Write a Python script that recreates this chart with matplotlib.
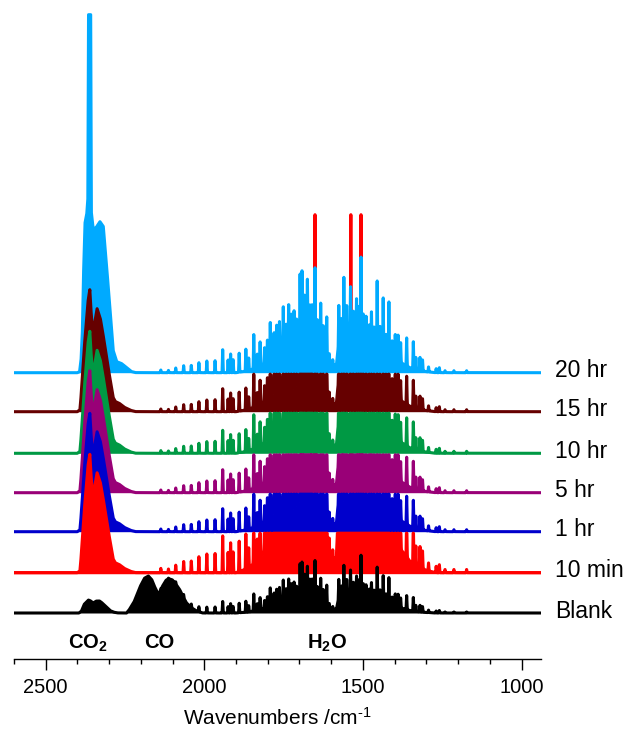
import numpy as np
import matplotlib
matplotlib.use("Agg")
import matplotlib.pyplot as plt
from matplotlib.ticker import FixedLocator

plt.rcParams['font.family'] = ['Liberation Sans', 'DejaVu Sans']
plt.rcParams['mathtext.fontset'] = 'custom'
plt.rcParams['mathtext.rm'] = 'Liberation Sans'
plt.rcParams['mathtext.it'] = 'Liberation Sans:italic'
plt.rcParams['mathtext.bf'] = 'Liberation Sans:bold'

# ---------------- data (heights in arbitrary units x100) ----------------
labels = ["20 hr", "15 hr", "10 hr", "5 hr", "1 hr", "10 min", "Blank"]
colors = ["#00AAFF", "#660000", "#009944", "#990077", "#0000CC", "#FF0000", "#000000"]
offsets = [2.863, 2.473, 2.057, 1.663, 1.273, 0.863, 0.460]
co2_scale = [1.0, 1.0, 1.0, 1.0, 0.97, 0.97, 1.0]
h2o_scale = [1.0, 1.0, 1.0, 1.0, 1.0, 1.6, 0.5]
h2o_env_scale = [1.0, 1.1, 1.1, 1.1, 1.1, 2.3, 0.5]

# water vapour rotational-vibrational lines (20 hr trace)
h2o_wn = [2137, 2113, 2090, 2065, 2041, 2017, 1992, 1966, 1942, 1925, 1917, 1909,
          1890, 1869, 1860, 1844, 1833, 1824, 1810, 1801, 1792, 1780, 1772, 1763,
          1751, 1742, 1734, 1726, 1717, 1709, 1698, 1692, 1684, 1675, 1667, 1660,
          1651, 1644, 1633, 1625, 1614, 1606, 1595, 1587, 1576, 1567, 1560, 1551,
          1539, 1530, 1520, 1513, 1506, 1499, 1490, 1480, 1473, 1465, 1455, 1446,
          1436, 1427, 1418, 1408, 1398, 1389, 1381, 1362, 1341, 1333, 1320, 1312,
          1293, 1269, 1259, 1241, 1213, 1173]
h2o_h = [2.7, 2.3, 4.7, 7, 7.3, 10, 11.7, 12, 23, 12.7, 18.7, 13,
         19, 22, 12.7, 34, 13, 24, 15, 19, 35, 23, 30, 33,
         47, 29, 48, 38, 40, 29, 69, 69, 43, 58, 33, 36,
         76, 26, 45, 24, 41, 13, 10, 5, 44, 27, 67, 38,
         56, 32, 45, 38, 88, 32, 32, 25, 39, 25, 72, 27,
         56, 20, 54, 20, 27, 27, 20, 28, 27, 12, 13, 11,
         5, 4, 5, 2, 2, 2]
# dense underlying water band (filled part)
h2o_env_wn = [1900, 1860, 1815, 1800, 1780, 1750, 1720, 1705, 1690, 1670, 1655, 1640,
              1620, 1610, 1603, 1585, 1579, 1565, 1540, 1520, 1500, 1488, 1460, 1420,
              1410, 1380, 1352, 1330, 1300, 1270]
h2o_env_h = [0, 2, 8, 14, 17, 19, 21, 26, 34, 36, 30, 26,
             22, 10, 3, 3, 22, 28, 30, 29, 27, 24, 20, 18,
             12, 10, 5, 3, 1, 0]

# CO2 band, 20 hr trace
co2_20_wn = [2400, 2393, 2388, 2384, 2380, 2376, 2370, 2367, 2365, 2358, 2356, 2350,
             2339, 2329, 2318, 2308, 2297, 2287, 2276, 2260, 2245, 2229, 2215]
co2_20_h = [0, 1, 15, 45, 110, 150, 160, 175, 358, 358, 160, 143,
            146, 151, 146, 106, 63, 22, 11, 9, 5, 1, 0]
# CO2 band, other reaction traces
co2_wn = [2400, 2392, 2387, 2376, 2366, 2361, 2356, 2352, 2349, 2346, 2338, 2327,
          2313, 2297, 2287, 2280, 2266, 2250, 2229, 2215]
co2_h = [0, 2, 22, 75, 112, 122, 95, 80, 50, 88, 103, 92,
         65, 32, 14, 10, 8, 4, 1, 0]
# CO2 and CO bands, blank
co2_blank_wn = [2395, 2387, 2378, 2365, 2358, 2350, 2340, 2330, 2318, 2305, 2295, 2282, 2270]
co2_blank_h = [0, 2, 9, 13, 12, 10, 12, 12, 9, 5, 2, 0.5, 0]
co_wn = [2245, 2235, 2220, 2210, 2200, 2188, 2176, 2165, 2155, 2147, 2140, 2130,
         2120, 2110, 2100, 2088, 2077, 2065, 2056, 2040, 2024, 2005]
co_h = [0, 4, 12, 20, 28, 35, 37, 33, 25, 20, 21, 28,
        33, 34, 33, 28, 23, 15, 10, 5, 2, 0]

# saturated lines in the 10 min trace
spike_wn = [1651, 1538, 1506]
spike_h = [358, 358, 358]

band_labels = ["CO$_\\mathbf{2}$", "CO", "H$_\\mathbf{2}$O"]
band_label_wn = [2367, 2143, 1613]

AU = 0.01
# ---------------- build spectra ----------------
x = np.arange(939.5, 2600.01, 0.25)


def lines(pos, hgt, sigma=0.9):
    y = np.zeros_like(x)
    for p, h in zip(pos, hgt):
        y += h * np.exp(-0.5 * ((x - p) / sigma) ** 2)
    return y


def env(wn, h):
    wn = np.asarray(wn, float)
    h = np.asarray(h, float)
    idx = np.argsort(wn)
    return np.interp(x, wn[idx], h[idx], left=0, right=0)


water_lines = lines(h2o_wn, h2o_h) * AU
water_env = env(h2o_env_wn, h2o_env_h) * AU
co2_20 = env(co2_20_wn, co2_20_h) * AU
co2_gen = env(co2_wn, co2_h) * AU
co2_bl = env(co2_blank_wn, co2_blank_h) * AU
co_bl = env(co_wn, co_h) * AU

fig = plt.figure(figsize=(6.24, 7.29), dpi=100)
ax = fig.add_axes([14 / 624, 70 / 729, 526.7 / 624, 659 / 729])

n = len(labels)
for i in range(n):
    off = offsets[i]
    w = water_lines * h2o_scale[i] + water_env * h2o_env_scale[i]
    if i == 0:
        co2 = co2_20
    elif i == n - 1:
        co2 = co2_bl + co_bl
    else:
        co2 = co2_gen * co2_scale[i]
        cap = offsets[i - 1] - off - 0.015
        w = np.minimum(w, cap)
    y = off + co2 + w
    z = 1 + i
    ax.fill_between(x, off, y, color=colors[i], lw=0, zorder=z)
    ax.plot(x, y, color=colors[i], lw=2.2, zorder=z, solid_joinstyle='round')
    ax.text(894, off - 0.045, labels[i], fontsize=16.5, ha='left', va='baseline',
            clip_on=False)

# saturated red lines, lying beneath the other traces
sp = offsets[5] + lines(spike_wn, spike_h) * AU
ax.plot(x, sp, color=colors[5], lw=2.2, zorder=0.5)

for t, wn in zip(band_labels, band_label_wn):
    ax.text(wn, 0.107, t, fontsize=14.5, fontweight='bold', ha='center', va='baseline')

ax.set_xlim(2600, 939.5)
ax.set_ylim(0, 6.59)
for s in ['left', 'right', 'top']:
    ax.spines[s].set_visible(False)
ax.spines['bottom'].set_linewidth(1.0)
ax.set_yticks([])
ax.xaxis.set_major_locator(FixedLocator([2500, 2000, 1500, 1000]))
ax.xaxis.set_minor_locator(FixedLocator([w for w in range(1100, 2601, 100) if w % 500]))
ax.tick_params(axis='x', which='major', length=7.7, width=1.0, labelsize=14.5, pad=6)
ax.tick_params(axis='x', which='minor', length=3.6, width=1.0)
ax.set_xlabel("Wavenumbers /cm$^{\\text{-}1}$", fontsize=15)
ax.xaxis.label.set_verticalalignment('baseline')
ax.xaxis.set_label_coords(0.5, -0.1002)
ax.patch.set_visible(False)

fig.savefig("out.png", dpi=100)
